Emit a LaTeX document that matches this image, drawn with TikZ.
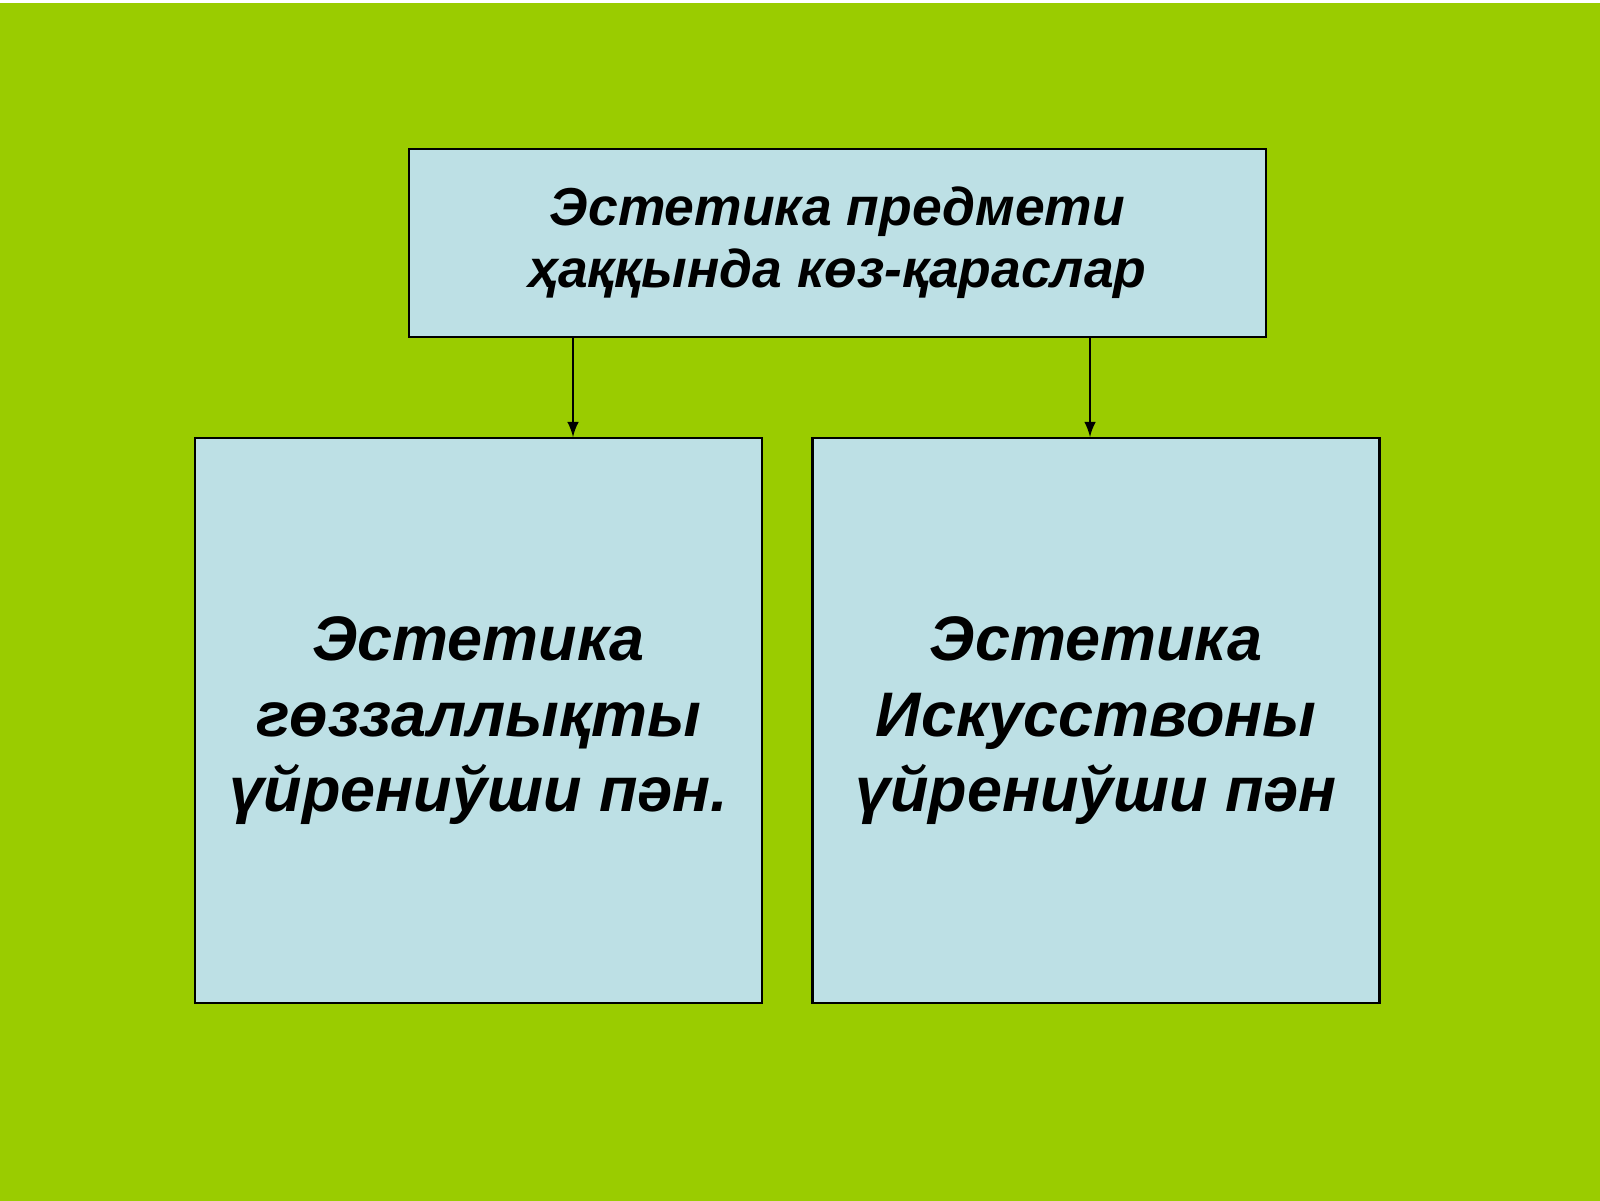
\documentclass[tikz,border=0pt]{standalone}
\usepackage{fontspec}
\setmainfont{Liberation Sans}
\usetikzlibrary{arrows, positioning}
\definecolor{slidegreen}{HTML}{9ACC00}
\definecolor{boxblue}{HTML}{BDE0E5}

\begin{document}
\begin{tikzpicture}[node distance=0.99cm, >=latex]
\tikzstyle{topic} = [rectangle, minimum width=8.57cm, minimum height=1.88cm, align=center, draw=black, line width=0.6pt, fill=boxblue, font=\bfseries\itshape\fontsize{15.2}{17.7}\selectfont]
\tikzstyle{branch} = [rectangle, minimum width=5.67cm, minimum height=5.65cm, align=center, draw=black, line width=0.6pt, fill=boxblue, font=\bfseries\itshape\fontsize{17.9}{21.6}\selectfont]

% slide background
\useasboundingbox (0,0) rectangle (16,-12);
\fill[white] (0,0) rectangle (16,-12);
\fill[slidegreen] (-0.1,-0.025) rectangle (16.1,-12.1);

\node (subject) [topic] at (8.375,-2.43) {Эстетика предмети\\ҳаққында көз-қараслар};
\node (beauty) [branch, below=of subject, xshift=-3.59cm] {Эстетика\\гөззаллықты\\үйрениўши пән.};
\node (art) [branch, below=of subject, xshift=2.585cm] {Эстетика\\Искусствоны\\үйрениўши пән};

\draw[->, line width=0.5pt] ([xshift=-2.645cm]subject.south) -- ([xshift=-2.645cm]subject.south |- beauty.north);
\draw[->, line width=0.5pt] ([xshift=2.525cm]subject.south) -- ([xshift=2.525cm]subject.south |- art.north);

\end{tikzpicture}
\end{document}
